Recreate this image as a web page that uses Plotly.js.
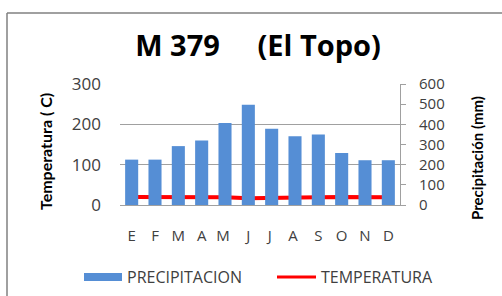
<!DOCTYPE html>
<html><head><meta charset="utf-8">
<script src="https://cdn.plot.ly/plotly-3.0.1.min.js"></script>
<style>html,body{margin:0;padding:0;background:#fff;}#chart{width:502px;height:296px;}</style>
</head><body><div id="chart"></div>
<script>
const months = ["E","F","M","A","M ","J","J ","A ","S","O","N","D"];
const precipitacion = [225, 225, 292, 320, 406, 497, 378, 341, 350, 258, 222, 222];
const temperatura = [20, 20, 20, 20, 19, 17, 17, 18, 19, 20, 20, 19];
const leftTicks = [0, 100, 200, 300];
const rightTicks = [0, 100, 200, 300, 400, 500, 600];

const L = 120, R = 400, T = 84, B = 205, W = 502, H = 296;
const px = x => (x - L) / (R - L);
const py = y => (B - y) / (B - T);
const font = "Lato, 'Open Sans', sans-serif";
const wide = "'Open Sans', Lato, sans-serif";

const data = [
  {type: 'bar', x: months, y: precipitacion, yaxis: 'y2', name: 'PRECIPITACION',
   marker: {color: '#558ED5'}, showlegend: false},
  {type: 'scatter', mode: 'lines', x: months, y: temperatura, yaxis: 'y', name: 'TEMPERATURA',
   line: {color: '#FF0000', width: 4}, showlegend: false}
];

const layout = {
  width: W, height: H,
  margin: {l: L, r: W - R, t: T, b: H - B, pad: 0},
  paper_bgcolor: '#fff', plot_bgcolor: '#fff',
  bargap: 0.44,
  font: {family: font, color: '#404040'},
  title: {text: 'M 379\u00A0\u00A0\u00A0\u00A0 (El Topo)', font: {family: wide, size: 29, color: '#000', weight: 'bold'},
          x: 258 / W, xanchor: 'center', y: 1 - 46 / H, yanchor: 'middle'},
  xaxis: {type: 'category', showgrid: false, showline: true, linecolor: '#A0A0A0', linewidth: 1,
          ticks: '', tickfont: {size: 15, color: '#404040', family: wide}, ticklabelstandoff: 17,
          fixedrange: true},
  yaxis: {range: [0, 300], tickvals: leftTicks, showgrid: true, gridcolor: '#A0A0A0', gridwidth: 1,
          zeroline: false, showline: false, ticks: '', ticklabelstandoff: 18,
          tickfont: {size: 17, color: '#404040', family: wide}},
  yaxis2: {range: [0, 600], tickvals: rightTicks, overlaying: 'y', side: 'right', showgrid: false,
           zeroline: false, showline: true, linecolor: '#A0A0A0', linewidth: 1,
           ticks: 'outside', ticklen: 5, tickcolor: '#A0A0A0', ticklabelstandoff: 10,
           tickfont: {size: 15, color: '#404040', family: wide}},
  shapes: [
    {type: 'line', xref: 'paper', yref: 'paper', x0: px(7), x1: px(7), y0: py(13), y1: py(300), line: {color: '#808080', width: 1.5}},
    {type: 'line', xref: 'paper', yref: 'paper', x0: px(7), x1: px(505), y0: py(13), y1: py(13), line: {color: '#808080', width: 1.5}},
    {type: 'rect', xref: 'paper', yref: 'paper', x0: px(84), x1: px(122), y0: py(281), y1: py(273), fillcolor: '#558ED5', line: {width: 0}},
    {type: 'line', xref: 'paper', yref: 'paper', x0: px(277), x1: px(316), y0: py(277), y1: py(277), line: {color: '#FF0000', width: 3}}
  ],
  annotations: [
    {text: 'Temperatura ( C)', xref: 'paper', yref: 'paper', x: px(45), y: py(152), textangle: -90,
     showarrow: false, xanchor: 'center', yanchor: 'middle', font: {family: font, size: 16, color: '#000', weight: 'bold'}},
    {text: 'Precipitación (mm)', xref: 'paper', yref: 'paper', x: px(477), y: py(158), textangle: -90,
     showarrow: false, xanchor: 'center', yanchor: 'middle', font: {family: font, size: 15, color: '#000', weight: 'bold'}},
    {text: 'PRECIPITACION', xref: 'paper', yref: 'paper', x: px(125), y: py(277), showarrow: false,
     xanchor: 'left', yanchor: 'middle', font: {family: wide, size: 16, color: '#404040'}},
    {text: 'TEMPERATURA', xref: 'paper', yref: 'paper', x: px(319), y: py(277), showarrow: false,
     xanchor: 'left', yanchor: 'middle', font: {family: wide, size: 16, color: '#404040'}}
  ]
};
Plotly.newPlot('chart', data, layout, {staticPlot: true, displayModeBar: false});
</script></body></html>
